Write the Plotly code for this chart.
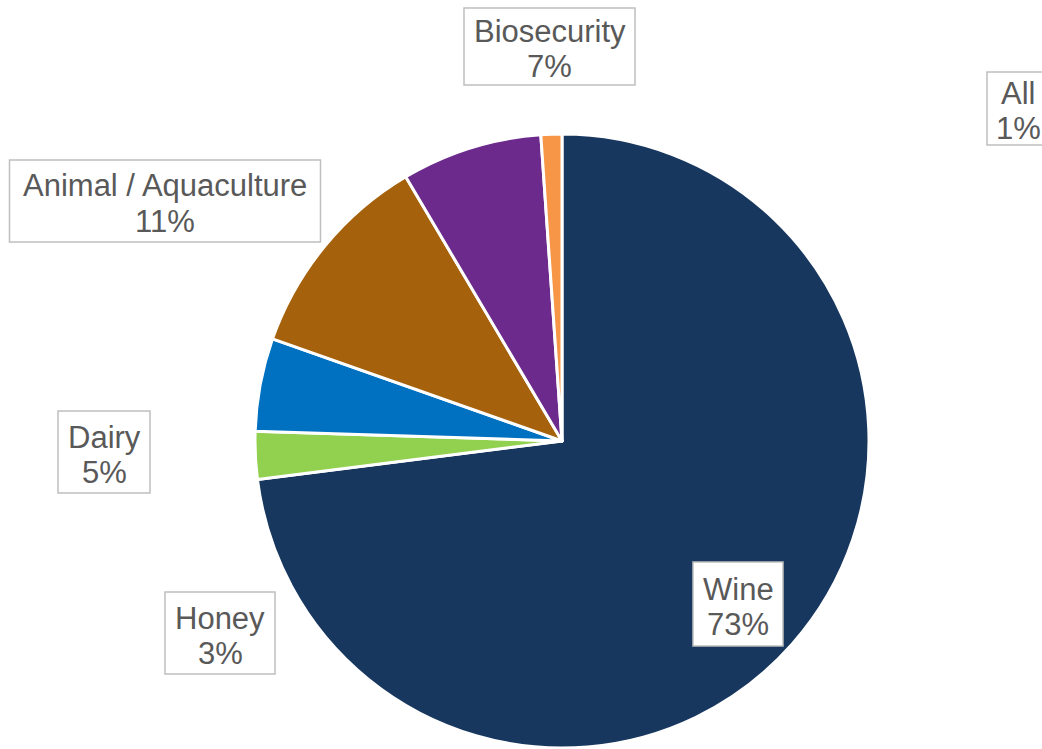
import plotly.graph_objects as go

# ---- data ----
categories = ["Wine", "Honey", "Dairy", "Animal / Aquaculture", "Biosecurity", "All"]
shares = [73.0, 2.5, 4.9, 11.1, 7.4, 1.1]
pct_labels = ["73%", "3%", "5%", "11%", "7%", "1%"]
colors = ["#17375E", "#92D050", "#0070C0", "#A5610C", "#6B2A8C", "#F79646"]

W, H = 1042, 749

# label box geometry in pixels: center x, center y, width, height
boxes = {
    "Wine": (738, 604, 90, 84),
    "Honey": (220, 633, 110, 82),
    "Dairy": (104, 452, 92, 82),
    "Animal / Aquaculture": (165, 201, 311, 82),
    "Biosecurity": (549.5, 46.5, 171, 77),
    "All": (1018, 108.5, 62, 73),
}

cx, cy, r = 562, 441, 307
LINE_GAP = 35
TEXT_SHIFT = 2.5
FONT = dict(family="Liberation Sans, Arial, sans-serif", size=31, color="#595959")

fig = go.Figure(go.Pie(
    labels=categories,
    values=shares,
    sort=False,
    direction="clockwise",
    rotation=0,
    marker=dict(colors=colors, line=dict(color="white", width=3)),
    textinfo="none",
    hoverinfo="label+percent",
    domain=dict(x=[(cx - r) / W, (cx + r) / W], y=[(H - cy - r) / H, (H - cy + r) / H]),
    showlegend=False,
))

shapes = []
annotations = []
for cat, pct in zip(categories, pct_labels):
    bx, by, bw, bh = boxes[cat]
    shapes.append(dict(
        type="rect", xref="paper", yref="paper",
        x0=(bx - bw / 2) / W, x1=(bx + bw / 2) / W,
        y0=1 - (by + bh / 2) / H, y1=1 - (by - bh / 2) / H,
        fillcolor="white", line=dict(color="#BFBFBF", width=1.5), layer="above",
    ))
    for txt, dy in ((cat, -LINE_GAP / 2), (pct, LINE_GAP / 2)):
        annotations.append(dict(
            xref="paper", yref="paper", x=bx / W, y=1 - (by + dy + TEXT_SHIFT) / H,
            xanchor="center", yanchor="middle", showarrow=False,
            text=txt, font=FONT, align="center",
        ))

fig.update_layout(
    width=W, height=H,
    margin=dict(l=0, r=0, t=0, b=0),
    paper_bgcolor="white", plot_bgcolor="white",
    shapes=shapes, annotations=annotations,
)

fig.write_html("out.html", config={"displayModeBar": False})

# remove the default page margin so the figure sits at the window's top-left corner
with open("out.html", encoding="utf-8") as f:
    html = f.read()
html = html.replace("<body>", '<body style="margin:0;padding:0;overflow:hidden">', 1)
with open("out.html", "w", encoding="utf-8") as f:
    f.write(html)
